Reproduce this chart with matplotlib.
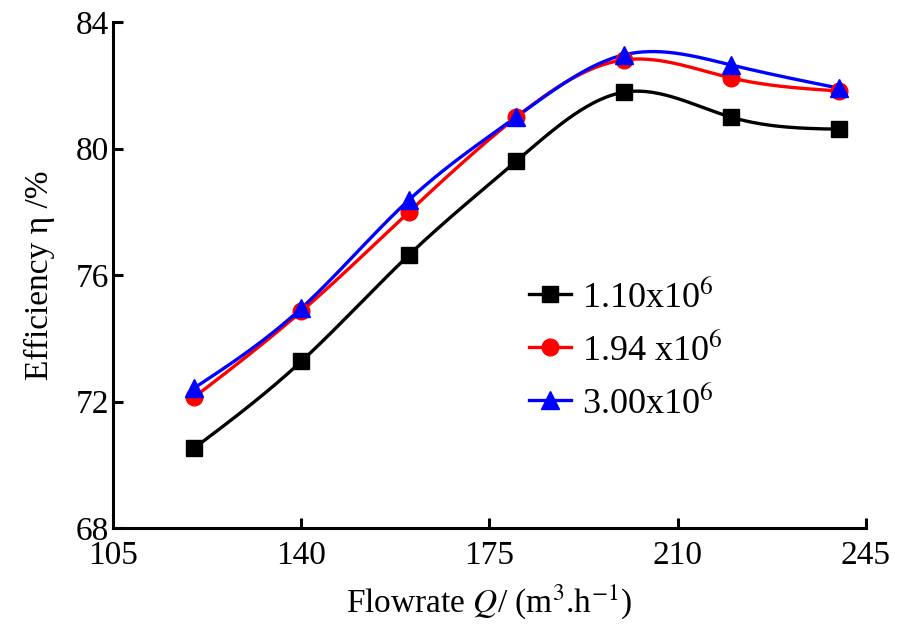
import matplotlib
matplotlib.use('Agg', force=True)
import numpy as np
import matplotlib.pyplot as plt

plt.rcParams['font.family'] = ['Liberation Serif', 'DejaVu Serif']
plt.rcParams['mathtext.fontset'] = 'stix'

# data
flow = [120, 140, 160, 180, 200, 220, 240]
eff_110 = [70.52, 73.27, 76.63, 79.60, 81.78, 80.99, 80.61]
eff_194 = [72.13, 74.85, 77.99, 80.99, 82.80, 82.23, 81.82]
eff_300 = [72.42, 74.95, 78.37, 81.00, 82.96, 82.64, 81.91]
labels = ['1.10x10$^{6}$', '1.94 x10$^{6}$', '3.00x10$^{6}$']
xticks = [105, 140, 175, 210, 245]
yticks = [68, 72, 76, 80, 84]


def natural_spline(x, y, n=300):
    # natural cubic spline, only to draw the smooth curve through the points
    x = np.asarray(x, float)
    y = np.asarray(y, float)
    k = len(x)
    h = np.diff(x)
    A = np.zeros((k, k))
    b = np.zeros(k)
    A[0, 0] = A[-1, -1] = 1
    for i in range(1, k - 1):
        A[i, i - 1] = h[i - 1]
        A[i, i] = 2 * (h[i - 1] + h[i])
        A[i, i + 1] = h[i]
        b[i] = 6 * ((y[i + 1] - y[i]) / h[i] - (y[i] - y[i - 1]) / h[i - 1])
    M = np.linalg.solve(A, b)
    xs = np.linspace(x[0], x[-1], n)
    idx = np.clip(np.searchsorted(x, xs) - 1, 0, k - 2)
    x0, x1 = x[idx], x[idx + 1]
    hh = x1 - x0
    t0, t1 = x1 - xs, xs - x0
    ys = (M[idx] * t0 ** 3 + M[idx + 1] * t1 ** 3) / (6 * hh) \
        + (y[idx] / hh - M[idx] * hh / 6) * t0 \
        + (y[idx + 1] / hh - M[idx + 1] * hh / 6) * t1
    return xs, ys


fig = plt.figure(figsize=(8.98, 6.28), dpi=100)
ax = fig.add_axes([0.126, 0.159, 0.838, 0.806])

series = [
    (eff_110, 'black', 's', 11),
    (eff_194, 'red', 'o', 12),
    (eff_300, 'blue', '^', 13),
]
for (vals, col, mk, ms), lab in zip(series, labels):
    xs, ys = natural_spline(flow, vals)
    ax.plot(xs, ys, color=col, lw=2.4, zorder=2)
    ax.plot(flow, vals, ls='none', marker=mk, ms=ms, color=col, zorder=3)
    ax.plot([], [], color=col, lw=2.4, marker=mk, ms=ms, label=lab)

ax.set_xlim(105, 245)
ax.set_ylim(68, 84)
ax.set_xticks(xticks)
ax.set_yticks(yticks)
for s in ['top', 'right']:
    ax.spines[s].set_visible(False)
for s in ['left', 'bottom']:
    ax.spines[s].set_linewidth(2.2)
ax.tick_params(direction='in', length=7, width=2.2, labelsize=24, pad=3)
ax.tick_params(axis='x', pad=9)

ax.set_xlabel('Flowrate $Q$/ (m$^{3}$.h$^{-1}$)', fontsize=24, labelpad=8)
ax.set_ylabel('Efficiency η /%', fontsize=24, labelpad=15)

ax.legend(loc='upper left', bbox_to_anchor=(0.51, 0.555), frameon=False,
          fontsize=26, handlelength=1.15, handletextpad=0.3, labelspacing=0.5)

fig.savefig('out.png', dpi=100)
